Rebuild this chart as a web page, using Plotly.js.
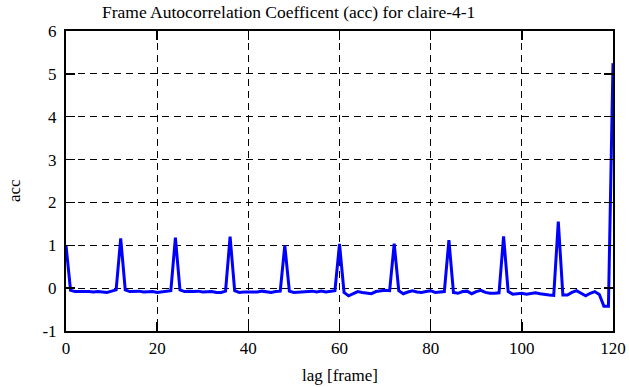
<!DOCTYPE html>
<html>
<head>
<meta charset="utf-8">
<script src="https://cdn.plot.ly/plotly-3.0.1.min.js"></script>
<style>html,body{margin:0;padding:0;background:#fff;}#chart{width:629px;height:387px;}</style>
</head>
<body>
<div id="chart"></div>
<script>
var lags = [];
for (var i = 0; i <= 120; i++) lags.push(i);

var acc = [
  1.00, -0.05, -0.08, -0.08, -0.07, -0.08, -0.09, -0.08, -0.09, -0.10,
  -0.07, -0.04, 1.16, -0.04, -0.08, -0.08, -0.07, -0.09, -0.09, -0.08,
  -0.10, -0.09, -0.07, -0.06, 1.18, -0.04, -0.08, -0.07, -0.08, -0.07,
  -0.09, -0.09, -0.08, -0.10, -0.10, -0.07, 1.20, -0.06, -0.10, -0.09,
  -0.09, -0.08, -0.09, -0.07, -0.09, -0.10, -0.08, -0.07, 1.00, -0.07,
  -0.10, -0.09, -0.08, -0.08, -0.07, -0.09, -0.07, -0.09, -0.08, -0.06,
  1.03, -0.10, -0.18, -0.12, -0.08, -0.10, -0.12, -0.13, -0.08, -0.07,
  -0.05, -0.06, 1.04, -0.06, -0.13, -0.09, -0.06, -0.09, -0.10, -0.08,
  -0.06, -0.10, -0.09, -0.08, 1.12, -0.10, -0.12, -0.08, -0.07, -0.13,
  -0.08, -0.05, -0.10, -0.12, -0.12, -0.11, 1.21, -0.08, -0.14, -0.13,
  -0.12, -0.14, -0.13, -0.11, -0.13, -0.15, -0.16, -0.17, 1.55, -0.16,
  -0.16, -0.10, -0.06, -0.12, -0.18, -0.12, -0.08, -0.15, -0.42, -0.42,
  5.25
];

var xTicks = [0, 20, 40, 60, 80, 100, 120];
var yTicks = [-1, 0, 1, 2, 3, 4, 5, 6];

var titleText = 'Frame Autocorrelation Coefficent (acc) for claire-4-1';
var xLabel = 'lag [frame]';
var yLabel = 'acc';

var fam = '"Liberation Serif", "Times New Roman", serif';
var font = {family: fam, size: 17, color: '#000'};
var titleFont = {family: fam, size: 17.5, color: '#000'};

var axisCommon = {
  showline: true, linecolor: '#000', linewidth: 2, mirror: 'ticks',
  ticks: 'inside', ticklen: 9, tickwidth: 1.5, tickcolor: '#000',
  showgrid: true, gridcolor: '#000', gridwidth: 1, griddash: '7px,5px',
  zeroline: false, tickfont: font, fixedrange: true
};

var layout = {
  width: 629, height: 387,
  margin: {l: 66, r: 16, t: 31, b: 56},
  paper_bgcolor: '#fff', plot_bgcolor: '#fff',
  showlegend: false,
  font: font,
  xaxis: Object.assign({}, axisCommon, {range: [0, 120], tickvals: xTicks, ticktext: xTicks.map(String), ticklabelstandoff: 1}),
  yaxis: Object.assign({}, axisCommon, {range: [-1, 6], tickvals: yTicks, ticktext: yTicks.map(String), ticklabelstandoff: 4}),
  annotations: [
    {text: titleText, xref: 'paper', yref: 'paper', x: 0.407, y: 1 + 19/300, xanchor: 'center', yanchor: 'middle', showarrow: false, font: titleFont},
    {text: xLabel, xref: 'paper', yref: 'paper', x: 0.5, y: -44/300, xanchor: 'center', yanchor: 'middle', showarrow: false, font: font},
    {text: yLabel, xref: 'paper', yref: 'paper', x: -52/547, y: (331-191)/300, xanchor: 'center', yanchor: 'middle', textangle: -90, showarrow: false, font: font}
  ]
};

var trace = {
  x: lags, y: acc, type: 'scatter', mode: 'lines',
  line: {color: '#0000ff', width: 3}, hoverinfo: 'skip'
};

Plotly.newPlot('chart', [trace], layout, {staticPlot: true, displayModeBar: false});
</script>
</body>
</html>
